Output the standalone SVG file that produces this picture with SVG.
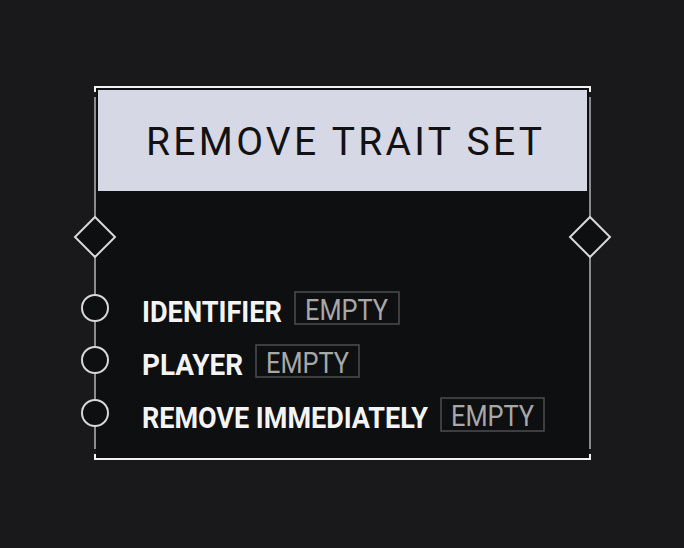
<svg xmlns="http://www.w3.org/2000/svg" width="684" height="548" viewBox="0 0 684 548">
<style>
.rail{stroke:#8b8b8e;stroke-width:2;fill:none}
.frame{stroke:#f2f2f2;stroke-width:2;fill:none}
.port{fill:#0e0f11;stroke:#d8d8d8;stroke-width:2}
.lbl{font-family:Roboto,"Liberation Sans",sans-serif;font-weight:700;font-size:30px;fill:#f4f4f4}
.val{font-family:Roboto,"Liberation Sans",sans-serif;font-weight:400;font-size:30px;fill:#a8a8a8}
.box{fill:none;stroke:#4e4e50;stroke-width:1.5}
.title{font-family:Roboto,"Liberation Sans",sans-serif;font-weight:400;font-size:39px;fill:#121214}
</style>
<rect width="684" height="548" fill="#19191b"/>
<g id="node-remove-trait-set">
<rect x="96" y="88" width="493" height="371" fill="#0e0f11"/>
<rect x="98" y="90" width="489" height="101" fill="#d6d9e5"/>
<text class="title" x="146" y="155" textLength="396" lengthAdjust="spacing">REMOVE TRAIT SET</text>
<path class="frame" d="M95 92 V87 H590 V92"/>
<path class="frame" d="M95 454 V459 H590 V454"/>
</g>
<g id="connectors">
<line class="rail" x1="95" y1="97" x2="95" y2="449"/>
<line class="rail" x1="590" y1="97" x2="590" y2="449"/>
</g>
<g id="port-in-exec"><polygon class="port" points="95,217 115,237 95,257 75,237"/></g>
<g id="port-out-exec"><polygon class="port" points="590,217 610,237 590,257 570,237"/></g>
<g id="row-identifier">
<circle class="port" cx="95" cy="308" r="13"/>
<text class="lbl" x="142" y="322" textLength="140" lengthAdjust="spacingAndGlyphs">IDENTIFIER</text>
<rect class="box" x="295" y="292" width="104" height="32"/>
<text class="val" x="305" y="320" textLength="83" lengthAdjust="spacingAndGlyphs">EMPTY</text>
</g>
<g id="row-player">
<circle class="port" cx="95" cy="360" r="13"/>
<text class="lbl" x="142" y="375" textLength="101" lengthAdjust="spacingAndGlyphs">PLAYER</text>
<rect class="box" x="256" y="345" width="103" height="32"/>
<text class="val" x="266" y="373" textLength="83" lengthAdjust="spacingAndGlyphs">EMPTY</text>
</g>
<g id="row-remove-immediately">
<circle class="port" cx="95" cy="413" r="13"/>
<text class="lbl" x="142" y="428" textLength="286" lengthAdjust="spacingAndGlyphs">REMOVE IMMEDIATELY</text>
<rect class="box" x="441" y="398" width="103" height="33"/>
<text class="val" x="451" y="426" textLength="83" lengthAdjust="spacingAndGlyphs">EMPTY</text>
</g>
</svg>
